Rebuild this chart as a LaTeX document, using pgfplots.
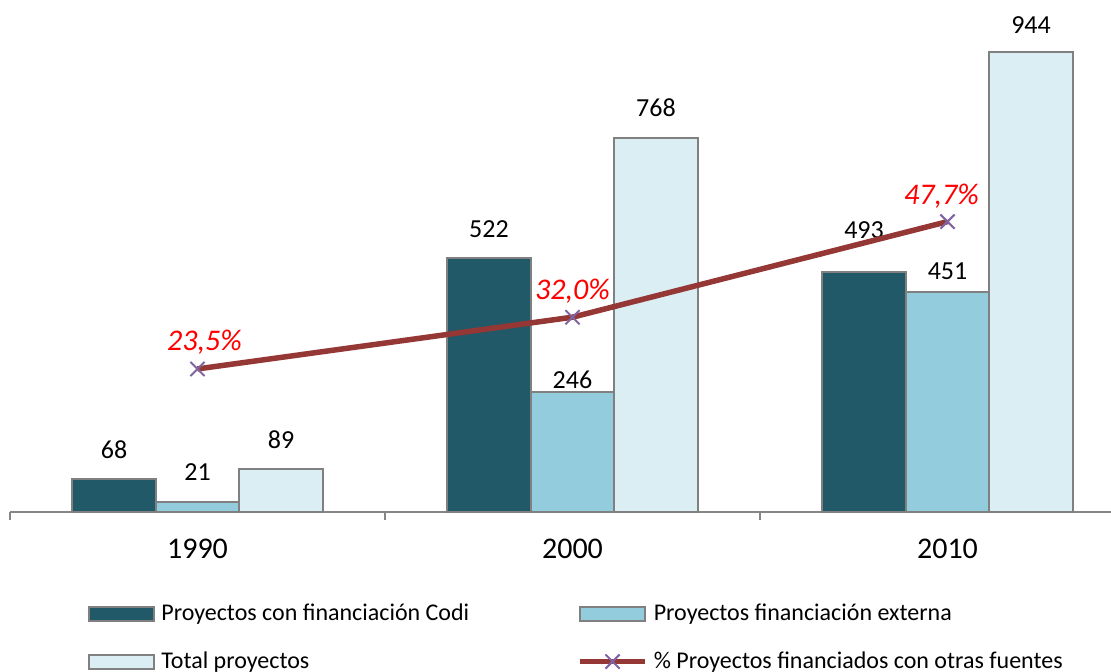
\documentclass[border=0pt]{standalone}
\usepackage{pgfplots}
\usepackage{pgfplotstable}
\pgfplotsset{compat=1.18}
\usepackage{fontspec}
\setmainfont{Carlito}

\definecolor{codi}{HTML}{215968}
\definecolor{externa}{HTML}{93CDDD}
\definecolor{total}{HTML}{DBEEF4}
\definecolor{edge}{HTML}{808080}
\definecolor{axisgray}{HTML}{868686}
\definecolor{linered}{HTML}{953735}
\definecolor{markpurple}{HTML}{8064A2}

\pgfplotsset{
  barleg/.style={legend image code/.code={\draw[##1] (0pt,-3.5pt) rectangle (32.5pt,3.5pt);}},
  lineleg/.style={legend image code/.code={\draw[##1, sharp plot, mark repeat=2, mark phase=2] plot coordinates {(0pt,0pt) (16.25pt,0pt) (32.5pt,0pt)};}},
  pctline/.style={color=linered, line width=2.75pt, mark=x, mark size=5pt,
    mark options={color=markpurple, line width=1pt}},
}

% x = 0,1,2 for 1990, 2000, 2010; dy = label lift in pt
\pgfplotstableread{
x y dy
0 68 6.2
1 522 6.2
2 493 12.7
}\codi
\pgfplotstableread{
x y dy
0 21 6.7
1 246 -2.3
2 451 2.7
}\externa
\pgfplotstableread{
x y dy
0 89 6.2
1 768 6.7
2 944 5.7
}\total
\pgfplotstableread{
x y dx dy
0 23.5 3.5 3.6
1 32.0 0 3.1
2 47.7 -3 2.6
}\pct

\begin{document}
\begin{tikzpicture}
\begin{axis}[
  at={(0,0)}, anchor=south west,
  scale only axis,
  width=550.5pt, height=243.5pt,
  xmin=-0.5, xmax=2.436,
  ymin=0, ymax=1000,
  ybar=0pt, bar width=41.75pt,
  axis y line=none,
  axis x line*=bottom,
  x axis line style={draw=axisgray, line width=1pt},
  xtick={0,1,2},
  xticklabels={1990,2000,2010},
  minor xtick={-0.5,0.5,1.5},
  major tick length=0pt,
  minor tick length=4pt,
  tick align=outside,
  tick style={draw=axisgray, line width=1pt},
  xticklabel style={font=\fontsize{15}{18}\selectfont, yshift=-10pt},
  clip=false,
  /pgf/number format/assume math mode=true,
  nodes near coords,
  visualization depends on={\thisrow{dy} \as \dy},
  every node near coord/.append style={font=\fontsize{13}{15}\selectfont, text=black, anchor=south, yshift=\dy pt},
  every axis plot/.append style={line width=1pt, barleg},
  legend columns=2,
  legend cell align=left,
  legend style={draw=none, fill=none, inner sep=0pt,
    at={(0.0708,-0.180)}, anchor=north west,
    font=\fontsize{12}{14}\selectfont,
    column sep=1pt, row sep=10pt,
    /tikz/every even column/.append style={column sep=52pt}},
]
\addplot[fill=codi, draw=edge] table[x=x, y=y] {\codi};
\addlegendentry{Proyectos con financiación Codi}
\addplot[fill=externa, draw=edge] table[x=x, y=y] {\externa};
\addlegendentry{Proyectos financiación externa}
\addplot[fill=total, draw=edge] table[x=x, y=y] {\total};
\addlegendentry{Total proyectos}
\addlegendimage{pctline, lineleg}
\addlegendentry{\% Proyectos financiados con otras fuentes}
\end{axis}

\begin{axis}[
  at={(0,0)}, anchor=south west,
  scale only axis,
  width=550.5pt, height=243.5pt,
  xmin=-0.5, xmax=2.436,
  ymin=0, ymax=80,
  hide axis,
  clip=false,
  /pgf/number format/assume math mode=true,
]
\addplot[pctline,
  nodes near coords={\pgfmathprintnumber[fixed,fixed zerofill,precision=1,use comma]{\pgfplotspointmeta}\%},
  visualization depends on={\thisrow{dx} \as \dx},
  visualization depends on={\thisrow{dy} \as \dy},
  every node near coord/.append style={font=\fontsize{15}{17}\selectfont\itshape, text=red,
    anchor=south, xshift=\dx pt, yshift=\dy pt},
] table[x=x, y=y] {\pct};
\end{axis}

\pgfresetboundingbox
\useasboundingbox (-5pt,-80pt) rectangle (550.5pt,256pt);
\end{tikzpicture}
\end{document}
